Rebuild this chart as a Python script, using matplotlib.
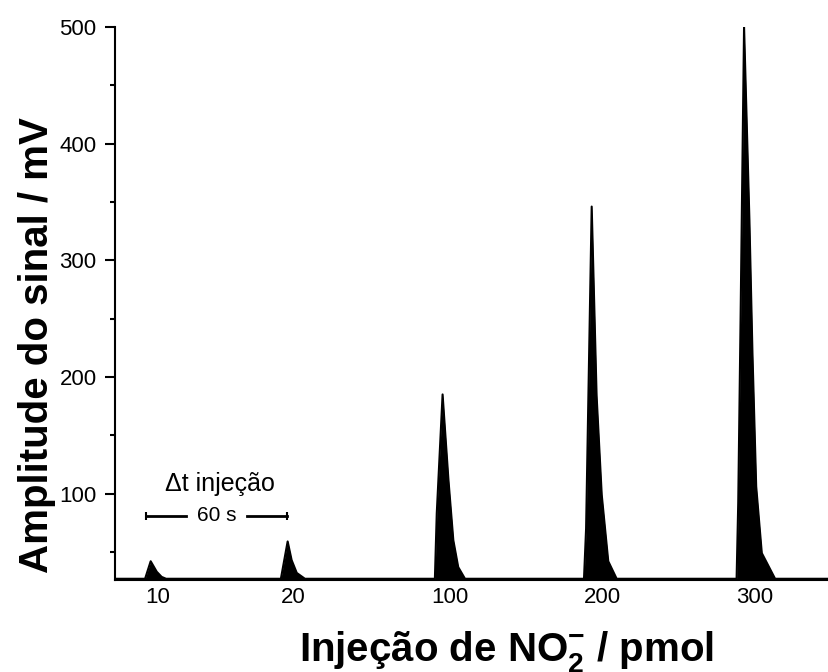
import matplotlib.pyplot as plt
from matplotlib.ticker import MultipleLocator

plt.rcParams['font.family'] = ['Liberation Sans', 'DejaVu Sans']
plt.rcParams['mathtext.fontset'] = 'custom'
plt.rcParams['mathtext.rm'] = 'Liberation Sans:bold'
plt.rcParams['mathtext.bf'] = 'Liberation Sans:bold'

# signal trace: time (s) and amplitude (mV)
t = [0, 12.9, 15.3, 17.9, 20.0, 21.9,
     71.1, 74.0, 75.7, 77.9, 81.4,
     137.1, 137.9, 140.4, 142.9, 145.0, 147.1, 150.0,
     201.0, 201.9, 204.3, 206.4, 208.6, 211.4, 215.0,
     266.4, 267.1, 268.1, 269.6, 271.9, 273.2, 274.8, 277.2, 282.9, 306]
signal = [27, 27, 42, 33, 28.6, 27,
          27, 59, 43, 32, 27,
          27, 83, 185, 112, 60, 37, 27,
          27, 70, 346, 184, 99, 42, 27,
          27, 92, 249, 500, 334, 220, 106, 49, 27, 27]
baseline = 27

# injected amounts (pmol) and where they sit on the time axis
pmol = ['10', '20', '100', '200', '300']
pmol_t = [18.5, 76.3, 143.5, 209.1, 274.3]

# 60 s injection interval marker
interval = [13.3, 73.7]
interval_y = 80.8

fig = plt.figure(figsize=(8.29, 6.72), dpi=100)
ax = fig.add_axes([0.1387, 0.137, 0.8613, 0.823])

ax.fill_between(t, baseline, signal, color='black', linewidth=0)
ax.plot(t, signal, color='black', linewidth=1.5)

ax.set_xlim(0, 306)
ax.set_ylim(26, 500)

ax.spines['top'].set_visible(False)
ax.spines['right'].set_visible(False)
ax.spines['left'].set_linewidth(1.5)
ax.spines['bottom'].set_linewidth(1.5)

ax.yaxis.set_major_locator(MultipleLocator(100))
ax.yaxis.set_minor_locator(MultipleLocator(50))
ax.tick_params(axis='y', which='major', direction='out', length=7.2, width=1.5,
               labelsize=16, pad=6)
ax.tick_params(axis='y', which='minor', direction='out', length=3.6, width=1.5)
ax.set_xticks(pmol_t)
ax.set_xticklabels(pmol)
ax.tick_params(axis='x', length=0, labelsize=16, pad=5)

ax.set_ylabel('Amplitude do sinal / mV', fontsize=29, fontweight='bold')
ax.yaxis.set_label_coords(-0.082, 0.425)
ax.set_xlabel(r'Injeção de NO$_\mathbf{2}^\mathbf{-}$ / pmol', fontsize=29,
              fontweight='bold')
ax.xaxis.set_label_coords(0.549, -0.088)

mid = (interval[0] + interval[1]) / 2
ax.text(mid + 1.5, 108, '\u0394t injeção', ha='center', va='center', fontsize=18)
ax.text(mid, interval_y, '60 s', ha='center', va='center', fontsize=15)
ax.plot([interval[0], mid - 13], [interval_y, interval_y], color='black', lw=2)
ax.plot([mid + 13, interval[1]], [interval_y, interval_y], color='black', lw=2)
ax.plot(interval, [interval_y, interval_y], linestyle='none', marker='|',
        markersize=6, markeredgewidth=1.5, color='black')

fig.savefig('out.png', dpi=100)
